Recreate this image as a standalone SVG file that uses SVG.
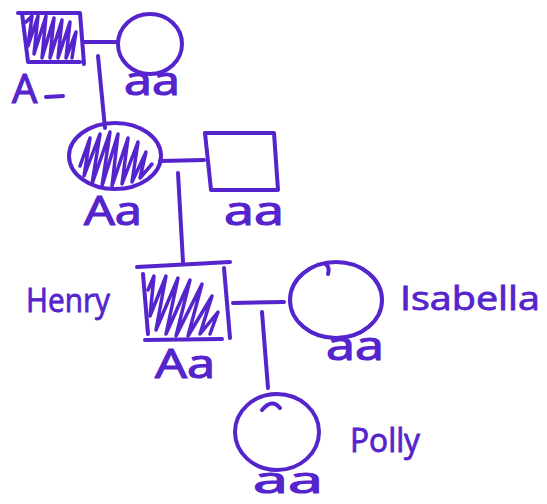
<svg xmlns="http://www.w3.org/2000/svg" width="547" height="504" viewBox="0 0 547 504">
  <style>
    .ink { fill: none; stroke: #5524cc; stroke-width: 4; stroke-linecap: round; stroke-linejoin: round; }
    .hatch { fill: none; stroke: #5524cc; stroke-width: 3.5; stroke-linecap: round; stroke-linejoin: round; }
    .lbl { fill: #5524cc; stroke: #5524cc; stroke-width: 1.2; font-family: "Open Sans", "Liberation Sans", sans-serif; font-size: 40px; }
    .name { fill: #5524cc; stroke: #5524cc; stroke-width: 0.8; font-family: "Open Sans", "Liberation Sans", sans-serif; font-size: 32px; }
  </style>
  <rect width="547" height="504" fill="#ffffff"/>

  <!-- couple and descent lines -->
  <g id="connectors">
    <path class="ink" d="M84 42 L116 42"/>
    <path class="ink" d="M98 56 L105 128"/>
    <path class="ink" d="M160 161 L204 160"/>
    <path class="ink" d="M178 173 L183 262"/>
    <path class="ink" d="M233 303 L284 302"/>
    <path class="ink" d="M262 312 L268 388"/>
  </g>

  <!-- generation I: affected male -->
  <g id="gen1-male">
    <path class="ink" d="M18 13 L80 13 L84 64 M22 13 L28 62 L80 62"/>
    <path class="hatch" d="M26 22 L32 16 L28 46 L38 16 L34 54 L46 16 L42 58 L54 18 L50 58 L62 20 L58 58 L70 22 L66 58 L76 32 L72 58"/>
    <text class="lbl" x="12" y="103">A</text>
    <path class="ink" d="M46 97 L63 96"/>
  </g>

  <!-- generation I: unaffected female -->
  <g id="gen1-female">
    <ellipse class="ink" cx="150" cy="44" rx="32" ry="30"/>
    <text class="lbl" x="124" y="95" textLength="56" lengthAdjust="spacingAndGlyphs">aa</text>
  </g>

  <!-- generation II: affected female -->
  <g id="gen2-female">
    <ellipse class="ink" cx="115" cy="156" rx="46" ry="33"/>
    <path class="hatch" d="M80 166 L90 138 L84 176 L100 134 L92 184 L110 132 L102 186 L118 134 L112 186 L128 138 L122 184 L138 142 L132 182 L146 152 L140 178 L152 164"/>
    <text class="lbl" x="84" y="225" textLength="58" lengthAdjust="spacingAndGlyphs">Aa</text>
  </g>

  <!-- generation II: unaffected male -->
  <g id="gen2-male">
    <path class="ink" d="M205 133 L274 133 L278 190 L211 190 Z"/>
    <text class="lbl" x="224" y="225" textLength="60" lengthAdjust="spacingAndGlyphs">aa</text>
  </g>

  <!-- generation III: Henry, affected male -->
  <g id="henry">
    <path class="ink" d="M137 267 L230 262 M143 274 L148 334 M224 268 L230 338 M145 340 L222 339"/>
    <path class="hatch" d="M148 290 L154 276 L150 316 L166 276 L156 330 L178 278 L166 334 L190 280 L176 336 L202 284 L188 336 L212 296 L200 334 L218 312 L210 334"/>
    <text class="name" x="26" y="312" textLength="84" lengthAdjust="spacingAndGlyphs">Henry</text>
    <text class="lbl" x="155" y="378" textLength="60" lengthAdjust="spacingAndGlyphs">Aa</text>
  </g>

  <!-- generation III: Isabella, unaffected female -->
  <g id="isabella">
    <ellipse class="ink" cx="336" cy="300" rx="46" ry="38"/>
    <path class="ink" d="M326 264 Q330 268 328 274"/>
    <text class="name" x="400" y="310" textLength="140" lengthAdjust="spacingAndGlyphs">Isabella</text>
    <text class="lbl" x="326" y="360" textLength="58" lengthAdjust="spacingAndGlyphs">aa</text>
  </g>

  <!-- generation IV: Polly, unaffected female -->
  <g id="polly">
    <ellipse class="ink" cx="277" cy="432" rx="42" ry="38"/>
    <path class="ink" d="M262 410 Q272 398 280 408"/>
    <text class="name" x="350" y="452" textLength="70" lengthAdjust="spacingAndGlyphs">Polly</text>
    <text class="lbl" x="253" y="493" textLength="70" lengthAdjust="spacingAndGlyphs" style="font-size:36px">aa</text>
  </g>
</svg>
